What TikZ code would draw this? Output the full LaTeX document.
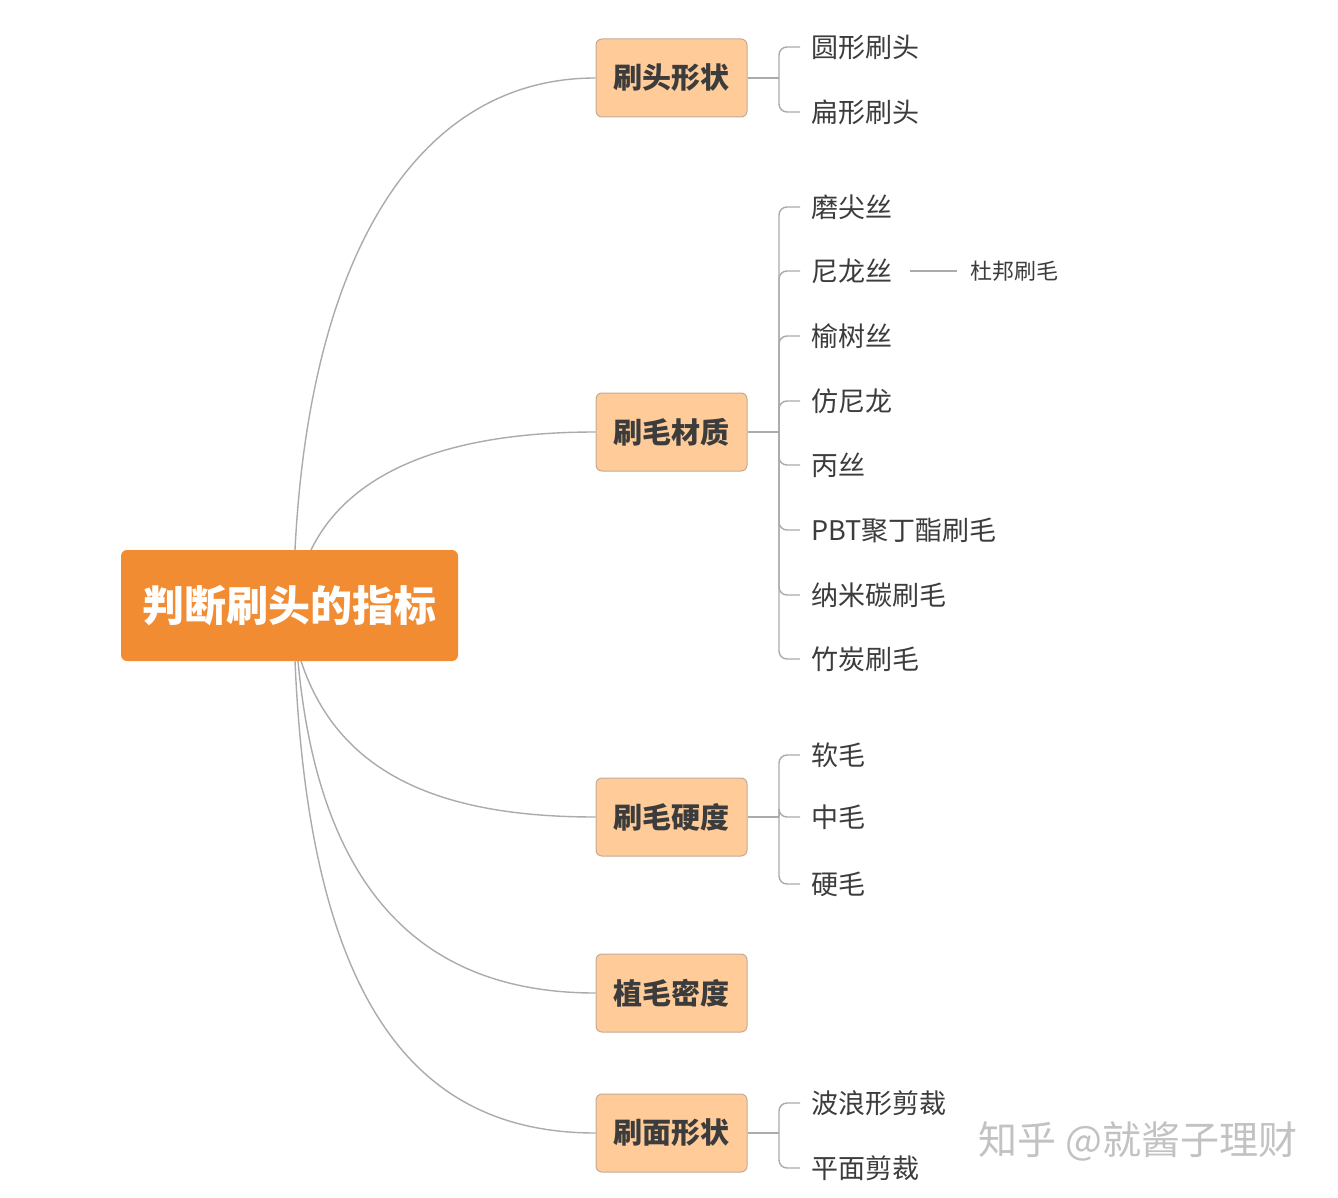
\documentclass[tikz,border=0pt]{standalone}
\usepackage{fontspec}
\setmainfont{Noto Sans CJK SC}
\usetikzlibrary{positioning}
\definecolor{rootorange}{HTML}{F28C33}
\definecolor{subpeach}{HTML}{FFCC99}
\definecolor{subborder}{HTML}{C4AA94}
\definecolor{linegrey}{HTML}{ABABAB}
\definecolor{textgrey}{HTML}{3C3C3C}
\definecolor{markgrey}{HTML}{C2C2C2}

\begin{document}
\begin{tikzpicture}[x=0.5pt,y=-0.5pt,
    root/.style={fill=rootorange,rounded corners=3pt,minimum width=168.5pt,
        minimum height=55.5pt,text=white,font=\fontsize{21}{25}\selectfont\bfseries},
    sub/.style={draw=subborder,line width=0.5pt,fill=subpeach,rounded corners=3pt,
        minimum width=75.5pt,minimum height=39pt,text=textgrey,
        font=\fontsize{14.5}{17}\selectfont\bfseries},
    leaf/.style={anchor=west,inner xsep=5.5pt,inner ysep=2pt,text=textgrey,
        font=\fontsize{13.5}{16}\selectfont},
    small/.style={anchor=west,inner sep=0pt,text=textgrey,font=\fontsize{11}{13}\selectfont},
    link/.style={draw=linegrey,line width=0.7pt,rounded corners=4pt},
    curve/.style={draw=linegrey,line width=0.7pt}
  ]
  \useasboundingbox[fill=white] (0,0) rectangle (1338,1198);

  % main topic
  \node[root] (top) at (289.5,605.5) {判断刷头的指标};

  % second level
  \node[sub] (shape) at (671.5,78) {刷头形状};
  \node[sub] (mat) at (671.5,432) {刷毛材质};
  \node[sub] (hard) at (671.5,817) {刷毛硬度};
  \node[sub] (dens) at (671.5,993) {植毛密度};
  \node[sub] (face) at (671.5,1133) {刷面形状};

  \draw[curve] (295,550) .. controls (310,250) and (420,78) .. (shape.west);
  \draw[curve] (311,550) .. controls (350,470) and (450,432) .. (mat.west);
  \draw[curve] (301,661) .. controls (340,780) and (450,817) .. (hard.west);
  \draw[curve] (298,661) .. controls (320,900) and (430,993) .. (dens.west);
  \draw[curve] (295,661) .. controls (310,1010) and (420,1133) .. (face.west);

  % junctions
  \coordinate (shapej) at (779,78);
  \coordinate (matj) at (779,432);
  \coordinate (hardj) at (779,817);
  \coordinate (facej) at (779,1133);
  \draw[curve] (shape.east) -- (shapej);
  \draw[curve] (mat.east) -- (matj);
  \draw[curve] (hard.east) -- (hardj);
  \draw[curve] (face.east) -- (facej);

  % leaves
  \foreach \name/\y/\txt in {round/47/圆形刷头, flat/112/扁形刷头} {
    \node[leaf] (\name) at (800,\y) {\txt};
    \draw[link] (shapej) |- (\name.west);
  }
  \foreach \name/\y/\txt in {tip/207/磨尖丝, nylon/271/尼龙丝, elm/336/榆树丝,
      fake/401/仿尼龙, pp/465/丙丝, pbt/530/PBT聚丁酯刷毛, nano/595/纳米碳刷毛,
      bamboo/659/竹炭刷毛} {
    \node[leaf] (\name) at (800,\y) {\txt};
    \draw[link] (matj) |- (\name.west);
  }
  \foreach \name/\y/\txt in {soft/755/软毛, mid/817/中毛, stiff/884/硬毛} {
    \node[leaf] (\name) at (800,\y) {\txt};
    \draw[link] (hardj) |- (\name.west);
  }
  \foreach \name/\y/\txt in {wave/1103/波浪形剪裁, plane/1168/平面剪裁} {
    \node[leaf] (\name) at (800,\y) {\txt};
    \draw[link] (facej) |- (\name.west);
  }

  \node[small] (dupont) at (970,271) {杜邦刷毛};
  \draw[curve] ([xshift=3pt]nylon.east) -- ([xshift=-6.5pt]dupont.west);

  % watermark
  \node[text=markgrey,font=\fontsize{19.5}{23}\selectfont] (mark) at (1138,1141) {知乎 @就酱子理财};
\end{tikzpicture}
\end{document}
